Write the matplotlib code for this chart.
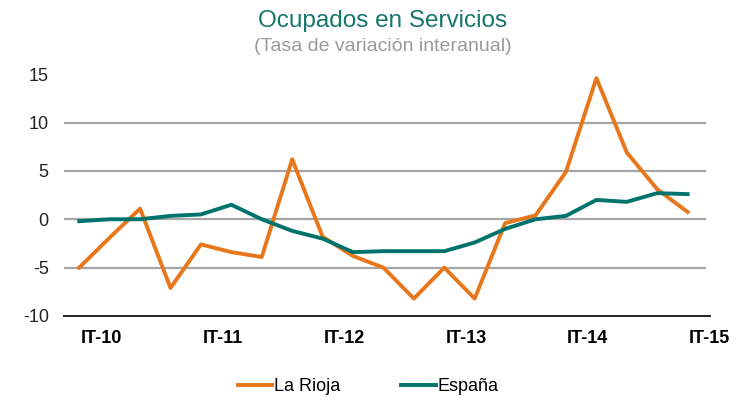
"""Ocupados en Servicios - La Rioja vs España"""

import matplotlib.pyplot as plt

plt.rcParams['font.family'] = ['Liberation Sans', 'DejaVu Sans']

# quarterly data, IT-10 .. IT-15
quarters = ['IT-10', 'IIT-10', 'IIIT-10', 'IVT-10',
            'IT-11', 'IIT-11', 'IIIT-11', 'IVT-11',
            'IT-12', 'IIT-12', 'IIIT-12', 'IVT-12',
            'IT-13', 'IIT-13', 'IIIT-13', 'IVT-13',
            'IT-14', 'IIT-14', 'IIIT-14', 'IVT-14',
            'IT-15']
la_rioja = [-5.0, -1.9, 1.1, -7.1, -2.6, -3.4, -3.9, 6.2, -1.8, -3.8, -5.0,
            -8.2, -5.0, -8.2, -0.4, 0.4, 4.9, 14.6, 6.9, 3.1, 0.75]
espana = [-0.2, 0.0, 0.0, 0.35, 0.5, 1.5, 0.0, -1.2, -2.0, -3.4, -3.3,
          -3.3, -3.3, -2.4, -1.0, 0.0, 0.35, 2.0, 1.8, 2.7, 2.6]
shown_labels = ['IT-10', 'IT-11', 'IT-12', 'IT-13', 'IT-14', 'IT-15']
yticks = [-10, -5, 0, 5, 10, 15]

orange = '#E8761A'
teal = '#00736C'

fig = plt.figure(figsize=(7.48, 4.01), dpi=100)
ax = fig.add_axes([0.0856, 0.212, 0.863, 0.603])

x = list(range(len(quarters)))
for y in yticks[1:-1]:
	ax.axhline(y, color='#A6A6A6', lw=1.6, xmax=0.993, zorder=0)
ax.plot(x, la_rioja, color=orange, lw=2.8, label='La Rioja', zorder=2)
ax.plot(x, espana, color=teal, lw=2.8, label='España', zorder=3)

ax.set_xlim(-0.5, 20.55)
ax.set_ylim(-10, 15)
ax.set_yticks(yticks)
ax.set_yticklabels([str(v) for v in yticks], fontsize=13, color='#222222')

# labels sit a bit right of the data points, like the original
pos = [quarters.index(q) + 0.72 for q in shown_labels]
ax.set_xticks(pos)
ax.set_xticklabels(shown_labels, fontsize=13, fontweight='bold')
ax.tick_params(axis='both', length=0)
ax.tick_params(axis='x', pad=10)
ax.tick_params(axis='y', pad=11)

for s in ['top', 'right', 'left']:
	ax.spines[s].set_visible(False)
ax.spines['bottom'].set_color('#222222')
ax.spines['bottom'].set_linewidth(1.4)

fig.text(0.512, 0.948, 'Ocupados en Servicios', ha='center', va='center',
         fontsize=17.5, color='#15766A')
fig.text(0.512, 0.883, '(Tasa de variación interanual)', ha='center',
         va='center', fontsize=14, color='#9A9A9A')

fig.legend(loc='center', bbox_to_anchor=(0.492, 0.035), ncol=2, frameon=False,
           fontsize=13, handlelength=1.9, handletextpad=0.1,
           columnspacing=3.4)

fig.savefig('out.png', dpi=100, facecolor='white')
